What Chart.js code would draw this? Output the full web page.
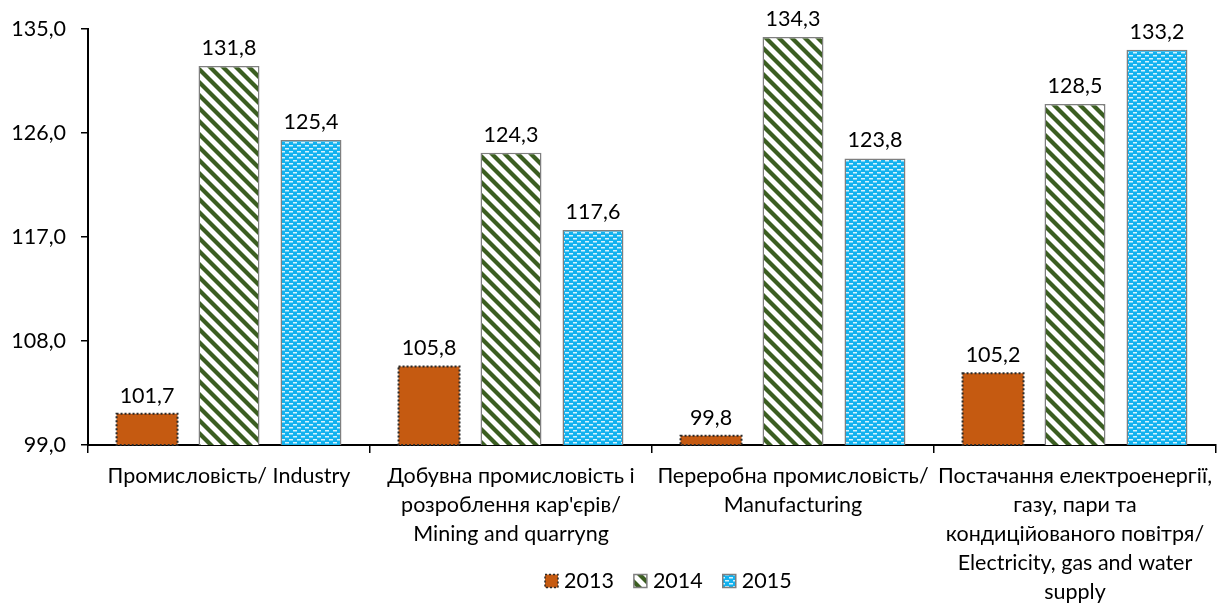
<!DOCTYPE html>
<html>
<head>
<meta charset="utf-8">
<script src="https://cdn.jsdelivr.net/npm/chart.js@4"></script>
<style>
  html, body { margin: 0; padding: 0; background: #fff; }
  #wrap { width: 1218px; height: 604px; }
</style>
</head>
<body>
<div id="wrap"><canvas id="grafico" width="1218" height="604"></canvas></div>
<script>
const categories = [
    'Промисловість/ Industry',
    ['Добувна промисловість і', 'розроблення кар\'єрів/', 'Mining and quarryng'],
    ['Переробна промисловість/', 'Manufacturing'],
    ['Постачання електроенергії,', 'газу, пари та', 'кондиційованого повітря/', 'Electricity, gas and water', 'supply']
];
const years = ['2013', '2014', '2015'];
const values2013 = [101.7, 105.8, 99.8, 105.2];
const values2014 = [131.8, 124.3, 134.3, 128.5];
const values2015 = [125.4, 117.6, 123.8, 133.2];
const yTicks = [99, 108, 117, 126, 135];

const FONT = 'Lato, Carlito, Calibri, sans-serif';
const fmt = v => v.toFixed(1).replace('.', ',');

// hatch patterns like the Excel fills
function stripes() {
    const s = 13;
    const c = document.createElement('canvas');
    c.width = s; c.height = s;
    const g = c.getContext('2d');
    g.fillStyle = '#ffffff';
    g.fillRect(0, 0, s, s);
    g.strokeStyle = '#3b5e21';
    g.lineWidth = 4.2;
    [-s, 0, s].forEach(k => {
        g.beginPath();
        g.moveTo(-s, -s + k);
        g.lineTo(2 * s, 2 * s + k);
        g.stroke();
    });
    return g.createPattern(c, 'repeat');
}
function dashes() {
    const c = document.createElement('canvas');
    c.width = 8; c.height = 6;
    const g = c.getContext('2d');
    g.fillStyle = '#12b2ef';
    g.fillRect(0, 0, 8, 6);
    g.fillStyle = '#d6f2fd';
    g.fillRect(1, 1, 4, 1.5);
    g.fillRect(5, 4, 3, 1.5);
    g.fillRect(0, 4, 1, 1.5);
    return g.createPattern(c, 'repeat');
}
const fill2014 = stripes();
const fill2015 = dashes();

const valueLabels = {
    id: 'valueLabels',
    afterDatasetsDraw(chart) {
        const ctx = chart.ctx;
        const bottom = chart.chartArea.bottom;
        ctx.save();
        // dotted outline of 2013 bars
        chart.getDatasetMeta(0).data.forEach(bar => {
            const p = bar.getProps(['x', 'y', 'base', 'width'], true);
            const b = Math.min(p.base, bottom);
            ctx.setLineDash([2, 2]);
            ctx.lineWidth = 2;
            ctx.strokeStyle = '#2a2a2a';
            ctx.strokeRect(p.x - p.width / 2, p.y, p.width, b - p.y);
        });
        ctx.setLineDash([]);
        ctx.font = '21.5px ' + FONT;
        ctx.fillStyle = '#000';
        ctx.textAlign = 'center';
        ctx.textBaseline = 'middle';
        chart.data.datasets.forEach((ds, i) => {
            chart.getDatasetMeta(i).data.forEach((bar, j) => {
                ctx.fillText(fmt(ds.data[j]), bar.x, bar.y - 18);
            });
        });
        ctx.restore();
    }
};

const legendBox = {
    id: 'legendBox',
    afterDraw(chart) {
        const ctx = chart.ctx;
        ctx.save();
        ctx.font = '21.5px ' + FONT;
        ctx.textBaseline = 'middle';
        ctx.textAlign = 'left';
        const y = 581, box = 13;
        let x = 545;
        chart.data.datasets.forEach((ds, i) => {
            ctx.fillStyle = ds.backgroundColor;
            ctx.fillRect(x, y - box / 2, box, box);
            if (i === 0) {
                ctx.setLineDash([2, 2]);
                ctx.strokeStyle = '#2a2a2a';
            } else {
                ctx.setLineDash([]);
                ctx.strokeStyle = '#7f7f7f';
            }
            ctx.lineWidth = 1.5;
            ctx.strokeRect(x, y - box / 2, box, box);
            ctx.setLineDash([]);
            ctx.fillStyle = '#000';
            ctx.fillText(ds.label, x + box + 6, y);
            x += box + 6 + ctx.measureText(ds.label).width + 20;
        });
        ctx.restore();
    }
};

new Chart(document.getElementById('grafico'), {
    type: 'bar',
    data: {
        labels: categories,
        datasets: [
            {
                label: years[0],
                data: values2013,
                backgroundColor: '#c55a11',
                borderWidth: 0
            },
            {
                label: years[1],
                data: values2014,
                backgroundColor: fill2014,
                borderColor: '#7f7f7f',
                borderWidth: 1.5,
                borderSkipped: false
            },
            {
                label: years[2],
                data: values2015,
                backgroundColor: fill2015,
                borderColor: '#7f7f7f',
                borderWidth: 1.5,
                borderSkipped: false
            }
        ]
    },
    options: {
        responsive: false,
        animation: false,
        categoryPercentage: 0.872,
        barPercentage: 0.744,
        layout: { padding: { top: 29, right: 2, left: 0, bottom: 0 } },
        plugins: {
            legend: { display: false },
            tooltip: { enabled: false }
        },
        scales: {
            x: {
                grid: {
                    drawOnChartArea: false,
                    tickLength: 8,
                    color: '#000',
                    lineWidth: 1.5
                },
                border: { color: '#000', width: 2 },
                ticks: {
                    color: '#000',
                    autoSkip: false,
                    maxRotation: 0,
                    minRotation: 0,
                    padding: 9,
                    font: { family: FONT, size: 21.5, lineHeight: 29 / 21.5 }
                },
                afterFit(s) {
                    s.height = 159;
                    s.paddingLeft = 0;
                    s.paddingRight = 0;
                }
            },
            y: {
                min: 99,
                max: 135,
                beginAtZero: false,
                afterBuildTicks(s) {
                    s.ticks = yTicks.map(v => ({ value: v }));
                },
                grid: {
                    drawOnChartArea: false,
                    tickLength: 7,
                    color: '#000',
                    lineWidth: 1.5
                },
                border: { color: '#000', width: 2 },
                ticks: {
                    color: '#000',
                    padding: 15,
                    font: { family: FONT, size: 21.5 },
                    callback: v => fmt(v)
                },
                afterFit(s) {
                    s.width = 88;
                    s.paddingTop = 0;
                    s.paddingBottom = 0;
                }
            }
        }
    },
    plugins: [valueLabels, legendBox]
});
</script>
</body>
</html>
